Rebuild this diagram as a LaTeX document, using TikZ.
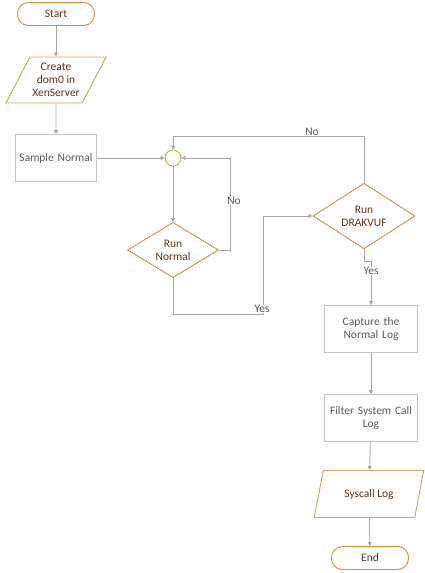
\documentclass[tikz,border=0pt]{standalone}
\usepackage{fontspec}
\setmainfont{Carlito}
\usepackage{xcolor}
\usepackage{tikz}
\usetikzlibrary{shapes.geometric,arrows.meta}
\definecolor{edge}{HTML}{A6A6A6}
\definecolor{orng}{HTML}{D98A45}
\definecolor{gold}{HTML}{CFA55A}
\definecolor{ring}{HTML}{E2A23E}
\definecolor{brwn}{HTML}{5C3317}
\definecolor{boxln}{HTML}{C4C4C4}
\definecolor{txt}{HTML}{595959}
\tikzset{
  term/.style={draw=orng, line width=0.9pt, rounded corners=11pt, minimum width=77pt,
    minimum height=23pt, text=brwn, font=\fontsize{11.5}{13}\selectfont},
  io/.style={draw=gold, line width=0.9pt, trapezium, trapezium stretches=true,
    inner sep=0pt, text=brwn, align=center, font=\fontsize{11.5}{13}\selectfont},
  proc/.style={draw=boxln, line width=0.9pt, minimum width=90pt, minimum height=47pt,
    text=txt, align=center, text width=86pt, font=\fontsize{11.5}{13}\selectfont},
  dec/.style={draw=orng, line width=0.9pt, diamond, inner sep=0pt, text=brwn,
    align=center, font=\fontsize{11.5}{13}\selectfont},
  merge/.style={draw=ring, line width=0.9pt, circle, minimum size=16pt, inner sep=0pt},
  arr/.style={draw=edge, line width=0.8pt, -{Triangle[length=4pt,width=4pt]}},
  lbl/.style={fill=white, text=txt, inner sep=0.5pt, font=\fontsize{11.5}{13}\selectfont},
}
\begin{document}
\begin{tikzpicture}[x=1pt,y=-1pt]
  \useasboundingbox[fill=white] (0,0) rectangle (424,573);
  % left column
  \node[term] (start) at (56,14) {Start};
  \node[io, trapezium left angle=57, trapezium right angle=123,
    minimum width=101pt, minimum height=46pt] (dom) at (56,80) {Create\\dom0 in\\XenServer};
  \node[proc, minimum width=77pt, text width=75pt] (sample) at (56,158) {Sample Normal};
  % merge point and the two checks
  \node[merge] (mrg) at (173,158) {};
  \node[dec, minimum width=91pt, minimum height=54pt] (rnorm) at (173,250) {Run\\Normal};
  \node[dec, minimum width=102pt, minimum height=61pt] (rdrak) at (364,216) {Run\\DRAKVUF};
  % right column
  \node[proc] (cap) at (371,329) {Capture the\\Normal Log};
  \node[proc] (filt) at (371,418) {Filter System Call\\Log};
  \node[io, trapezium left angle=64, trapezium right angle=116,
    minimum width=110pt, minimum height=47pt] (sys) at (369,494) {Syscall Log};
  \node[term] (fin) at (370,558) {End};

  \coordinate (topy) at (0,136);
  \coordinate (mid) at (263,314);
  \coordinate (jog) at (371,261);

  \draw[arr] (start) -- (dom);
  \draw[arr] (dom) -- (sample);
  \draw[arr] (sample) -- (mrg);
  \draw[arr] (mrg) -- (rnorm);
  \draw[arr] (rdrak.north) -- (rdrak.north |- topy) -| (mrg.north);
  \draw[arr] (rnorm.east) -- ++(11,0) |- (mrg.east);
  \draw[arr] (rnorm.south) |- (mid) |- (rdrak.west);
  \draw[arr] (rdrak.south) |- (jog) -- (cap.north);
  \draw[arr] (cap) -- (filt);
  \draw[arr] (filt) -- (sys);
  \draw[arr] (sys) -- (fin);

  \node[lbl] at (312,132) {No};
  \node[lbl] at (234,201) {No};
  \node[lbl] at (262,309) {Yes};
  \node[lbl] at (371,271) {Yes};
\end{tikzpicture}
\end{document}
